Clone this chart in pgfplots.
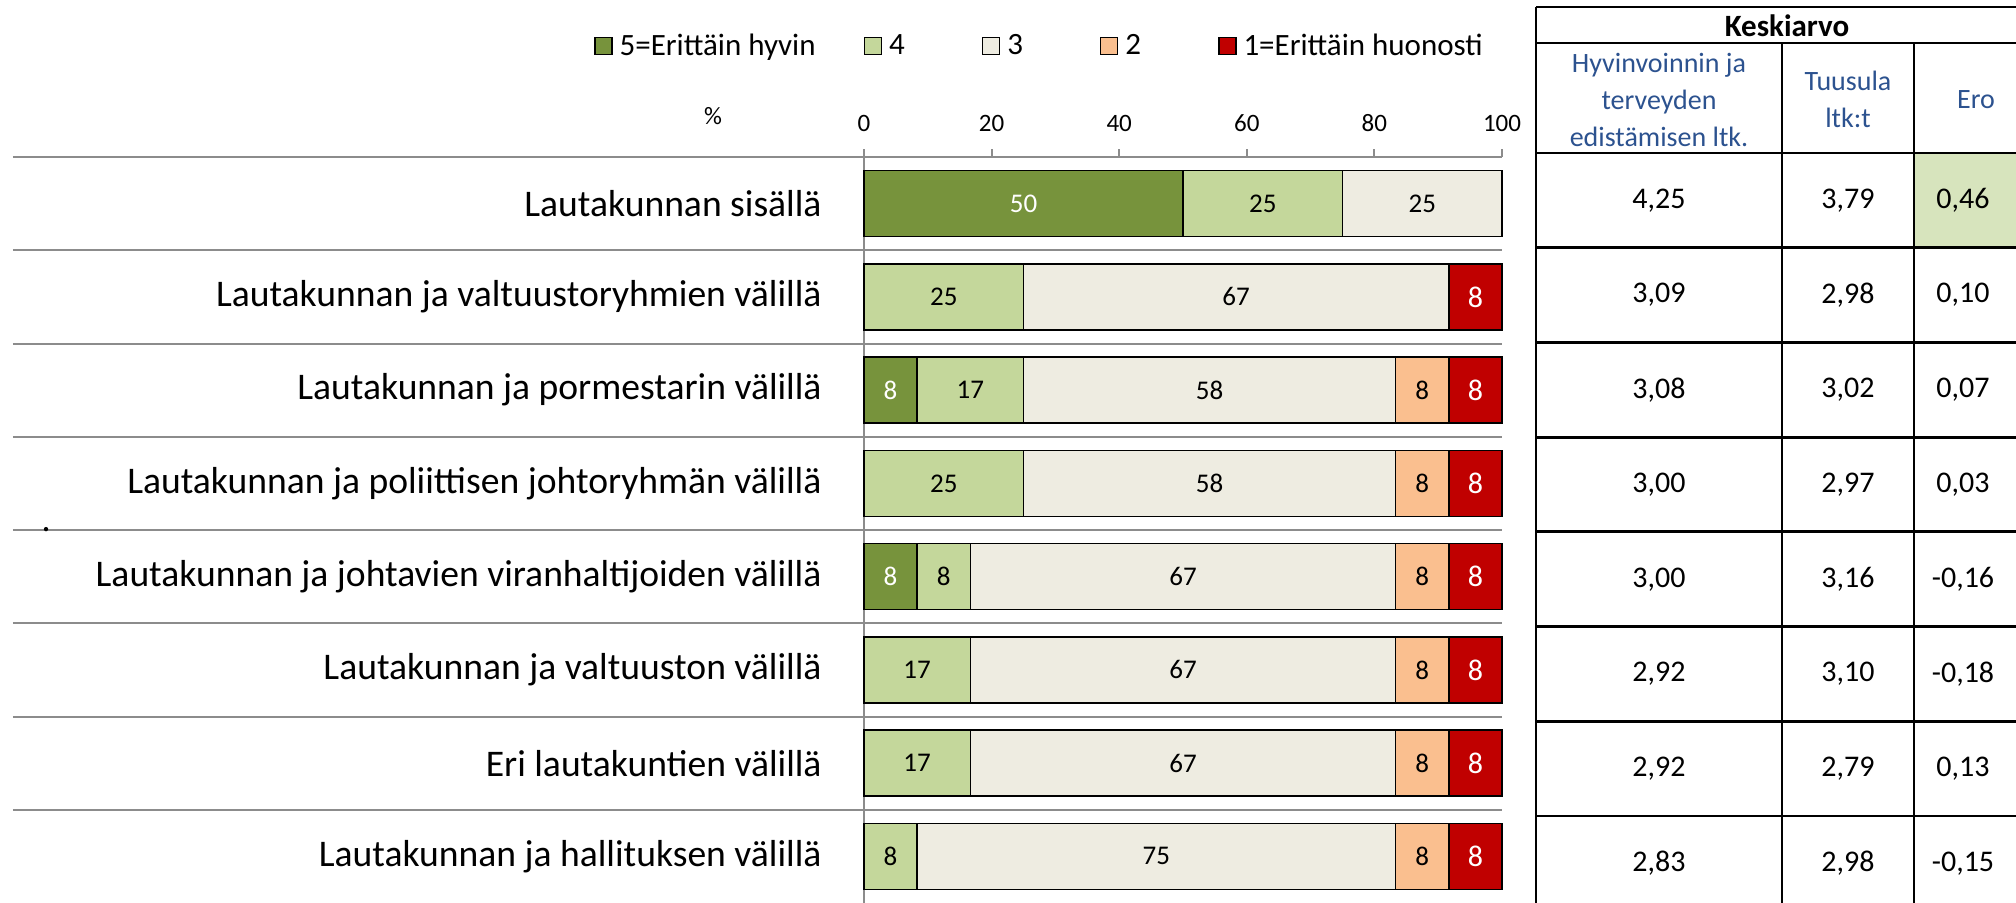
\documentclass[border=0pt]{standalone}
\usepackage{fontspec}
\setmainfont{Carlito}
\usepackage{pgfplots}
\pgfplotsset{compat=1.18}

\definecolor{c5}{RGB}{119,147,60}
\definecolor{c4}{RGB}{196,215,155}
\definecolor{c3}{RGB}{238,236,225}
\definecolor{c2}{RGB}{250,191,143}
\definecolor{c1}{RGB}{192,0,0}
\definecolor{axgray}{RGB}{140,140,140}
\definecolor{hdrblue}{RGB}{44,82,143}
\definecolor{erogreen}{RGB}{215,228,189}

\begin{document}
\begin{tikzpicture}
\useasboundingbox (0,0) rectangle (1008pt,-451pt);
\clip (0,0) rectangle (1008pt,-451pt);
\begin{axis}[
  at={(432pt,-78.5pt)}, anchor=north west,
  xbar stacked, bar width=33pt,
  width=319pt, height=373pt, scale only axis,
  xmin=0, xmax=100, ymin=0.5, ymax=8.5,
  axis x line*=top, axis y line*=left,
  axis line style={axgray, line width=1pt, -},
  xtick={0,20,...,100},
  xtick style={axgray, line width=1pt},
  ytick style={draw=none},
  major tick length=4pt, tick align=outside,
  xticklabel style={font=\fontsize{12.5}{14}\selectfont, yshift=5pt},
  ytick={1,...,8},
  yticklabels={
    Lautakunnan ja hallituksen välillä,
    Eri lautakuntien välillä,
    Lautakunnan ja valtuuston välillä,
    Lautakunnan ja johtavien viranhaltijoiden välillä,
    Lautakunnan ja poliittisen johtoryhmän välillä,
    Lautakunnan ja pormestarin välillä,
    Lautakunnan ja valtuustoryhmien välillä,
    Lautakunnan sisällä},
  yticklabel style={font=\fontsize{18.8}{22}\selectfont, anchor=east, inner sep=0pt, xshift=-17pt},
  /pgf/number format/assume math mode=true,
  clip=false,
  xlabel={\%},
  xlabel style={at={(axis description cs:-0.2367,1.055)}, anchor=center, font=\fontsize{12.5}{14}\selectfont},
  ylabel={.},
  ylabel style={at={(axis description cs:-1.282,0.5)}, anchor=center, rotate=-90, font=\fontsize{18}{21}\selectfont},
  nodes near coords={\pgfmathprintnumber[fixed,precision=0]{\rawx}},
  nodes near coords align={center},
  visualization depends on=rawx \as \rawx,
  every node near coord/.append style={anchor=center, font=\fontsize{13.5}{15}\selectfont},
  legend columns=5,
  legend style={at={(axis description cs:-0.4232,1.1488)}, anchor=west, draw=none, fill=none,
    inner sep=0pt, outer sep=0pt, font=\fontsize{15.5}{18}\selectfont, nodes={inner sep=0pt},
    /tikz/every odd column/.append style={column sep=3.5pt},
    /tikz/every even column/.append style={column sep=0pt}},
  legend image code/.code={\draw[#1, line width=0.8pt] (0pt,-4.25pt) rectangle (8.5pt,4.25pt);},
  legend cell align=left,
]
% 5 = Erittäin hyvin
\addplot[fill=c5, draw=black, line width=0.8pt, every node near coord/.append style={text=white}]
  coordinates {(0,1) (0,2) (0,3) (8.333,4) (0,5) (8.333,6) (0,7) (50,8)};
\addlegendentry{\makebox[122pt][l]{5=Erittäin hyvin}}
% 4
\addplot[fill=c4, draw=black, line width=0.8pt]
  coordinates {(8.333,1) (16.667,2) (16.667,3) (8.333,4) (25,5) (16.667,6) (25,7) (25,8)};
\addlegendentry{\makebox[46.25pt][l]{4}}
% 3
\addplot[fill=c3, draw=black, line width=0.8pt]
  coordinates {(75,1) (66.667,2) (66.667,3) (66.667,4) (58.333,5) (58.333,6) (66.667,7) (25,8)};
\addlegendentry{\makebox[46.25pt][l]{3}}
% 2
\addplot[fill=c2, draw=black, line width=0.8pt]
  coordinates {(8.333,1) (8.333,2) (8.333,3) (8.333,4) (8.333,5) (8.333,6) (0,7) (0,8)};
\addlegendentry{\makebox[46.25pt][l]{2}}
% 1 = Erittäin huonosti
\addplot[fill=c1, draw=black, line width=0.8pt, every node near coord/.append style={text=white, font=\fontsize{15}{16}\selectfont}]
  coordinates {(8.333,1) (8.333,2) (8.333,3) (8.333,4) (8.333,5) (8.333,6) (8.333,7) (0,8)};
\addlegendentry{1=Erittäin huonosti}

% row separators
\draw[axgray, line width=1pt] (axis cs:-133.4,8.5) -- (axis cs:100,8.5);
\draw[axgray, line width=1pt] (axis cs:-133.4,7.5) -- (axis cs:100,7.5);
\draw[axgray, line width=1pt] (axis cs:-133.4,6.5) -- (axis cs:100,6.5);
\draw[axgray, line width=1pt] (axis cs:-133.4,5.5) -- (axis cs:100,5.5);
\draw[axgray, line width=1pt] (axis cs:-133.4,4.5) -- (axis cs:100,4.5);
\draw[axgray, line width=1pt] (axis cs:-133.4,3.5) -- (axis cs:100,3.5);
\draw[axgray, line width=1pt] (axis cs:-133.4,2.5) -- (axis cs:100,2.5);
\draw[axgray, line width=1pt] (axis cs:-133.4,1.5) -- (axis cs:100,1.5);
\end{axis}

% table of means
\fill[erogreen] (957pt,-76.5pt) rectangle (1019pt,-123.85pt);
\begin{scope}[line width=1.4pt]
\draw (768pt,-3.5pt) -- (1019pt,-3.5pt);
\draw (768pt,-21.5pt) -- (1019pt,-21.5pt);
\draw (768pt,-3.5pt) -- (768pt,-460pt);
\draw (891pt,-21.5pt) -- (891pt,-460pt);
\draw (957pt,-21.5pt) -- (957pt,-460pt);
\foreach \yy in {76.5,123.85,171.2,218.55,265.9,313.25,360.6,407.95}
  \draw (768pt,-\yy pt) -- (1019pt,-\yy pt);
\end{scope}
\node[font=\fontsize{15.5}{18}\selectfont\bfseries] at (893.5pt,-13pt) {Keskiarvo};
\node[text=hdrblue, align=center, font=\fontsize{14}{18.5}\selectfont] at (829.5pt,-50pt)
  {Hyvinvoinnin ja\\terveyden\\edistämisen ltk.};
\node[text=hdrblue, align=center, font=\fontsize{14}{18.5}\selectfont] at (924pt,-49.5pt)
  {Tuusula\\ltk:t};
\node[text=hdrblue, font=\fontsize{14}{18.5}\selectfont] at (988pt,-50pt) {Ero};
\begin{scope}[every node/.style={font=\fontsize{15}{18}\selectfont}]
\foreach \a/\b/\c [count=\i from 0] in {{4,25}/{3,79}/{0,46}, {3,09}/{2,98}/{0,10},
    {3,08}/{3,02}/{0,07}, {3,00}/{2,97}/{0,03}, {3,00}/{3,16}/{-0,16},
    {2,92}/{3,10}/{-0,18}, {2,92}/{2,79}/{0,13}, {2,83}/{2,98}/{-0,15}} {
  \node at (829.5pt,-100.2pt-47.35pt*\i) {\a};
  \node at (924pt,-100.2pt-47.35pt*\i) {\b};
  \node at (981.5pt,-100.2pt-47.35pt*\i) {\c};
}
\end{scope}
\end{tikzpicture}
\end{document}
